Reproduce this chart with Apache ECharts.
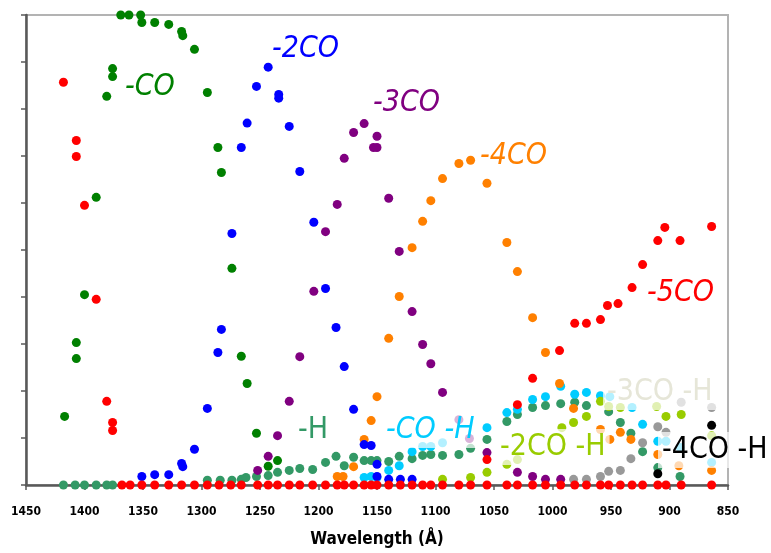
<!DOCTYPE html>
<html>
<head>
<meta charset="utf-8">
<script src="https://cdn.jsdelivr.net/npm/echarts@6/dist/echarts.min.js"></script>
<style>
  html, body { margin: 0; padding: 0; background: #ffffff; }
  #chart { width: 771px; height: 553px; }
</style>
</head>
<body>
<div id="chart"></div>
<script>
// Wavelength ticks (Å)
const wavelengthTicks = [1450, 1400, 1350, 1300, 1250, 1200, 1150, 1100, 1050, 1000, 950, 900, 850];

// Fragment yields: [wavelength (Å), relative yield (%)]
const lossCO = [[1417,14.6],[1407,30.3],[1407,26.9],[1400,40.5],[1390,61.2],[1381,82.7],[1376,88.6],[1376,86.9],
  [1369,100],[1362,100],[1352,100],[1351,98.4],[1340,98.4],[1328,98.0],[1317,96.5],[1316,95.6],[1306,92.7],
  [1295,83.5],[1286,71.8],[1283,66.5],[1274,46.1],[1266,27.4],[1261,21.6],[1253,11.0],[1243,4.0],[1235,5.2]];

const loss2CO = [[1351,1.8],[1340,2.2],[1328,2.2],[1317,4.6],[1316,3.9],[1306,7.6],[1295,16.3],[1286,28.2],
  [1283,33.1],[1274,53.5],[1266,71.8],[1261,77.0],[1253,84.8],[1243,88.9],[1234,83.1],[1234,82.3],[1225,76.3],
  [1216,66.7],[1204,55.9],[1194,41.8],[1185,33.5],[1178,25.2],[1170,16.1],[1161,8.6],[1155,8.4],[1150,4.4],
  [1150,1.8],[1140,1.2],[1130,1.2],[1120,1.2]];

const loss3CO = [[1252,3.1],[1243,6.1],[1235,10.5],[1225,17.8],[1216,27.3],[1204,41.2],[1194,53.9],[1184,59.7],
  [1178,69.5],[1170,75.0],[1161,76.9],[1153,71.8],[1150,71.8],[1150,74.2],[1140,61.0],[1131,49.7],[1120,36.9],
  [1111,29.9],[1104,25.8],[1094,19.7],[1080,13.9],[1071,9.9],[1056,6.9],[1030,2.7],[1017,1.8],[1006,1.2],[993,1.2]];

const loss4CO = [[1184,1.8],[1179,1.8],[1170,3.9],[1161,9.7],[1155,13.7],[1150,18.8],[1140,31.2],[1131,40.1],
  [1120,50.5],[1111,56.1],[1104,60.5],[1094,65.2],[1080,68.4],[1070,69.1],[1056,64.2],[1039,51.6],[1030,45.4],
  [1017,35.6],[1006,28.2],[994,21.6],[982,16.3],[959,11.8],[951,9.7],[942,11.2],[933,9.7],[910,6.5],[892,4.1],[864,3.1]];

const loss5CO = [[1418,85.7],[1407,73.3],[1407,69.9],[1400,59.5],[1390,39.5],[1381,17.8],[1376,13.3],[1376,11.6],
  [1056,5.4],[1030,17.1],[1017,22.7],[994,28.6],[981,34.4],[971,34.4],[959,35.2],[953,38.2],[944,38.6],[932,42.0],
  [923,46.9],[910,52.0],[904,54.8],[891,52.0],[864,55.0]];

const loss5COBaseline = [1368,1361,1351,1340,1328,1317,1306,1295,1285,1275,1266,1252,1243,1235,1225,1216,1205,
  1194,1184,1178,1170,1161,1155,1150,1140,1130,1120,1111,1104,1094,1080,1070,1056,1039,1030,1017,1006,993,981,
  971,959,952,942,932,923,910,903,890,864];

const lossH = [[1418,0],[1408,0],[1400,0],[1390,0],[1381,0],[1376,0],[1295,1.0],[1284,1.0],[1274,1.0],[1266,1.2],
  [1262,1.6],[1253,1.8],[1243,2.0],[1235,2.7],[1225,3.1],[1216,3.5],[1205,3.3],[1194,4.8],[1185,6.1],[1178,4.1],
  [1170,5.9],[1161,5.2],[1155,5.2],[1150,5.2],[1140,5.0],[1131,6.1],[1120,5.6],[1111,6.3],[1104,6.5],[1094,6.3],
  [1080,6.5],[1070,7.8],[1056,9.7],[1039,13.5],[1030,15.0],[1017,16.5],[1006,16.9],[993,17.3],[981,17.6],[971,16.9],
  [952,15.6],[942,13.3],[933,11.0],[923,7.1],[910,3.7],[891,1.8]];

const lossCOH = [[1161,1.6],[1155,1.8],[1150,1.6],[1140,3.1],[1131,4.1],[1120,7.1],[1111,8.2],[1104,8.2],[1094,9.0],
  [1056,12.2],[1039,15.4],[1030,16.1],[1017,18.2],[1006,18.8],[993,21.0],[981,19.3],[971,19.7],[959,19.0],[951,18.8],
  [932,16.5],[923,12.9],[910,9.3],[903,9.3],[891,8.0],[864,4.8]];

const loss2COH = [[1094,1.2],[1070,1.6],[1056,2.7],[1039,4.4],[1030,5.4],[992,12.2],[982,13.3],[971,14.6],[959,17.8],
  [952,16.7],[942,16.5],[911,16.7],[903,14.6],[890,15.0],[864,10.5]];

const loss3COH = [[982,1.2],[971,1.2],[959,1.8],[952,2.9],[942,3.1],[933,5.6],[923,9.0],[910,12.4],[903,11.2],
  [890,17.6],[864,16.5]];

const loss4COH = [[910,2.4],[864,12.7]];

const seriesNames = ['-H', '-CO -H', '-2CO -H', '-3CO -H', '-4CO -H', '-4CO', '-3CO', '-2CO', '-CO', '-5CO'];

const chart = echarts.init(document.getElementById('chart'), null, { renderer: 'canvas' });

const narrow = '"DejaVu Sans Condensed", "Liberation Sans Narrow", "DejaVu Sans", sans-serif';

function dots(name, data, color) {
  return {
    name: name,
    type: 'scatter',
    data: data,
    symbol: 'circle',
    symbolSize: 9,
    itemStyle: { color: color, opacity: 1 },
    emphasis: { disabled: true }
  };
}

function tag(text, left, top, color, italic, boxed) {
  const style = {
    text: text,
    fill: color,
    font: (italic ? 'italic ' : '') + '30px ' + narrow
  };
  if (boxed) {
    style.backgroundColor = 'rgba(255,255,255,0.7)';
    style.padding = [3, 4, 3, 4];
  }
  return { type: 'text', left: left, top: top, z: 100, silent: true, style: style };
}

const option = {
  animation: false,
  backgroundColor: '#ffffff',
  grid: {
    left: 26, right: 43, top: 15, bottom: 68,
    show: true, borderColor: '#b3b3b3', borderWidth: 2, backgroundColor: 'transparent'
  },
  xAxis: {
    type: 'value',
    inverse: true,
    min: 850, max: 1450, interval: 50,
    name: 'Wavelength (Å)',
    nameLocation: 'middle',
    nameGap: 46,
    nameTextStyle: { fontSize: 17, fontWeight: 'bold', color: '#000', fontFamily: narrow },
    axisLine: { show: true, onZero: false, lineStyle: { color: '#595959', width: 2.5 } },
    axisTick: { show: true, length: 5, lineStyle: { color: '#595959', width: 1.5 } },
    splitLine: { show: false },
    axisLabel: {
      margin: 21, fontSize: 12, fontWeight: 'bold', color: '#000', fontFamily: narrow,
      formatter: v => wavelengthTicks.includes(v) ? String(v) : ''
    }
  },
  yAxis: {
    type: 'value',
    min: 0, max: 100, interval: 10,
    axisLine: { show: true, onZero: false, lineStyle: { color: '#595959', width: 2.5 } },
    axisTick: { show: true, length: 5, lineStyle: { color: '#595959', width: 1.5 } },
    axisLabel: { show: false },
    splitLine: { show: false }
  },
  series: [
    dots(seriesNames[0], lossH, '#339966'),
    dots(seriesNames[1], lossCOH, '#00ccff'),
    dots(seriesNames[2], loss2COH, '#99cc00'),
    dots(seriesNames[3], loss3COH, '#999999'),
    dots(seriesNames[4], loss4COH, '#000000'),
    dots(seriesNames[5], loss4CO, '#ff8000'),
    dots(seriesNames[6], loss3CO, '#800080'),
    dots(seriesNames[7], loss2CO, '#0000ff'),
    dots(seriesNames[8], lossCO, '#008000'),
    dots(seriesNames[9], loss5CO.concat(loss5COBaseline.map(w => [w, 0])), '#ff0000')
  ],
  graphic: [
    tag('-CO', 125, 72, '#008000', true, false),
    tag('-2CO', 272, 34, '#0000ff', true, false),
    tag('-3CO', 373, 88, '#800080', true, false),
    tag('-4CO', 480, 141, '#ff8000', true, false),
    tag('-5CO', 647, 278, '#ff0000', true, false),
    tag('-H', 294, 412, '#339966', false, true),
    tag('-CO -H', 382, 412, '#00ccff', true, true),
    tag('-2CO -H', 496, 429, '#99cc00', false, true),
    tag('-3CO -H', 603, 374, '#e6e6d8', false, true),
    tag('-4CO -H', 658, 432, '#000000', false, true)
  ]
};

chart.setOption(option);
</script>
</body>
</html>
